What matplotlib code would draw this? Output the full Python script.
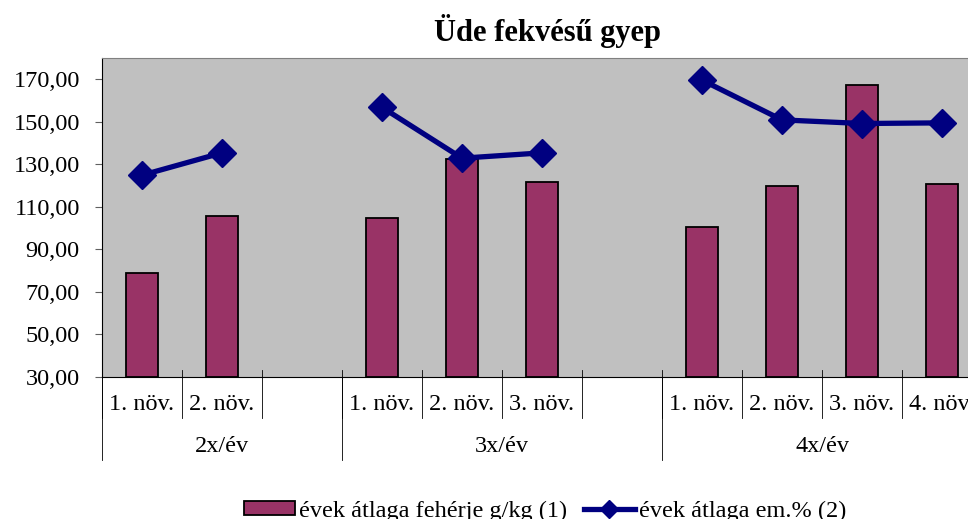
import numpy as np
import matplotlib.pyplot as plt
from matplotlib.lines import Line2D

plt.rcParams['font.family'] = ['Liberation Serif', 'DejaVu Serif']

groups = ['2x/év', '3x/év', '4x/év']
cuts = [['1. növ.', '2. növ.'],
        ['1. növ.', '2. növ.', '3. növ.'],
        ['1. növ.', '2. növ.', '3. növ.', '4. növ.']]
feherje = [[78.8, 105.6],
           [104.7, 132.4, 121.8],
           [100.6, 119.7, 167.3, 120.6]]
em_pct = [[124.9, 135.4],
          [156.8, 132.9, 135.4],
          [169.6, 150.9, 149.2, 149.5]]
yticks = [30, 50, 70, 90, 110, 130, 150, 170]

W, H = 968, 519
fs = 17.5
fig = plt.figure(figsize=(W/100, H/100), dpi=100)
# plot area runs past the right edge, as in the cropped original
x0, x1, yb, yt = 102, 982, 377, 58
ax = fig.add_axes([x0/W, 1-yb/H, (x1-x0)/W, (yb-yt)/H])
ax.set_facecolor('#C0C0C0')

# slot layout: each group gets one empty slot after it, except the last
slot = 0
bar_x, bar_h, line_parts, labels, bounds, group_spans = [], [], [], [], [0], []
for gi, g in enumerate(groups):
    start = slot
    xs = []
    for ci, c in enumerate(cuts[gi]):
        bar_x.append(slot)
        bar_h.append(feherje[gi][ci])
        labels.append((slot, c))
        xs.append(slot)
        slot += 1
        bounds.append(slot)
    line_parts.append((xs, em_pct[gi]))
    if gi < len(groups) - 1:
        slot += 1
        bounds.append(slot)
    group_spans.append((start, slot))
nslots = slot

bars = ax.bar(bar_x, np.array(bar_h) - 30, bottom=30, width=0.4, color='#993366',
              edgecolor='black', linewidth=1.3, zorder=2)
for xs, ys in line_parts:
    ax.plot(xs, ys, color='#000080', lw=3.8, marker='D', ms=14, zorder=3)

ax.set_xlim(-0.5, nslots - 0.5)
ax.set_ylim(30, 180)
ax.set_yticks(yticks)
ax.set_yticklabels(['%d,00' % v for v in yticks], fontsize=fs)
ax.tick_params(axis='y', length=5, color='#606060', pad=11)
ax.set_xticks([])
ax.spines['top'].set_color('#808080')
ax.spines['right'].set_visible(False)
ax.spines['left'].set_color('black')
ax.spines['bottom'].set_color('black')

trans = ax.get_xaxis_transform()
px = 1/(yb-yt)
for b in bounds:
    ax.plot([b-0.5, b-0.5], [7*px, -41*px], transform=trans, color='black', lw=0.6, clip_on=False)
for gi, (s, e) in enumerate(group_spans):
    ax.plot([s-0.5, s-0.5], [0, -83*px], transform=trans, color='black', lw=0.6, clip_on=False)
    ax.text((s+e-1)/2, -69*px, groups[gi], transform=trans,
            ha='center', va='center', fontsize=fs)
for x, c in labels:
    ax.text(x, -28*px, c, transform=trans, ha='center', va='center', fontsize=fs)

fig.text(547/W, 1-31/H, 'Üde fekvésű gyep', ha='center', va='center',
         fontsize=22, fontweight='bold')

line_h = Line2D([], [], color='#000080', lw=3.8, marker='D', ms=9)
fig.legend([bars, line_h], ['évek átlaga fehérje g/kg (1)', 'évek átlaga em.% (2)'],
           loc='center', bbox_to_anchor=(545/W, 1-511/H), ncol=2, frameon=False,
           fontsize=fs, handlelength=2.1, handleheight=0.55, handletextpad=0.15,
           columnspacing=0.7)

fig.savefig('out.png', dpi=100)
